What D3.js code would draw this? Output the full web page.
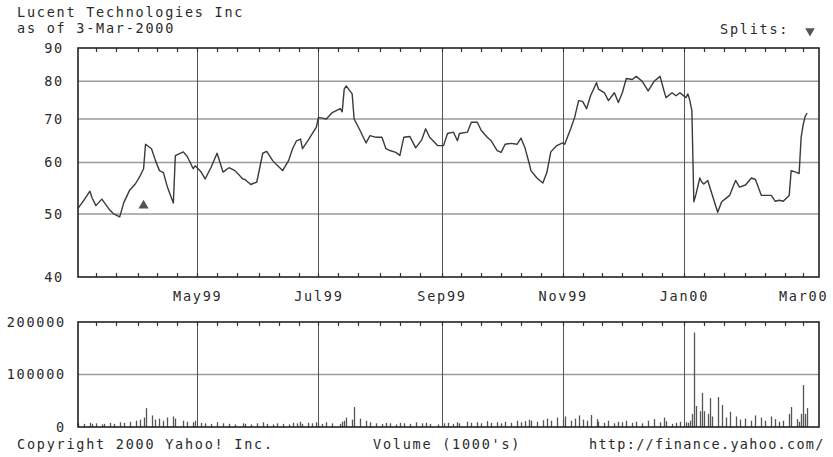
<!DOCTYPE html>
<html><head><meta charset="utf-8">
<script src="https://cdn.jsdelivr.net/npm/d3@7"></script>
<style>
html,body{margin:0;padding:0;background:#fff;}
svg text{font-family:"DejaVu Sans Mono","Liberation Mono",monospace;font-size:13.5px;letter-spacing:1.75px;fill:#2a2a2a;}
</style></head>
<body>
<svg id="chart" width="833" height="457"></svg>
<script>
// ---- data ----
const title = "Lucent Technologies Inc";
const subtitle = "as of 3-Mar-2000";
const dates = [
"1999-03-02","1999-03-05","1999-03-08","1999-03-09","1999-03-11","1999-03-14","1999-03-15","1999-03-18","1999-03-20","1999-03-23",
"1999-03-25","1999-03-28","1999-03-31","1999-04-02","1999-04-04","1999-04-05","1999-04-08","1999-04-10","1999-04-12","1999-04-14",
"1999-04-16","1999-04-19","1999-04-20","1999-04-24","1999-04-26","1999-04-29","1999-04-30","1999-05-03","1999-05-05","1999-05-08",
"1999-05-11","1999-05-14","1999-05-17","1999-05-20","1999-05-24","1999-05-25","1999-05-28","1999-05-31","1999-06-03","1999-06-05",
"1999-06-08","1999-06-10","1999-06-13","1999-06-16","1999-06-18","1999-06-20","1999-06-22","1999-06-23","1999-06-26","1999-06-28",
"1999-06-30","1999-07-01","1999-07-03","1999-07-05","1999-07-08","1999-07-12","1999-07-13","1999-07-14","1999-07-15","1999-07-18",
"1999-07-19","1999-07-22","1999-07-25","1999-07-27","1999-07-30","1999-08-02","1999-08-04","1999-08-06","1999-08-09","1999-08-11",
"1999-08-13","1999-08-16","1999-08-19","1999-08-22","1999-08-24","1999-08-26","1999-08-30","1999-09-02","1999-09-04","1999-09-07",
"1999-09-09","1999-09-10","1999-09-14","1999-09-16","1999-09-19","1999-09-21","1999-09-24","1999-09-26","1999-09-29","1999-10-01",
"1999-10-03","1999-10-06","1999-10-09","1999-10-11","1999-10-13","1999-10-15","1999-10-16","1999-10-19","1999-10-22","1999-10-24",
"1999-10-26","1999-10-29","1999-11-01","1999-11-02","1999-11-05","1999-11-07","1999-11-09","1999-11-11","1999-11-13","1999-11-15",
"1999-11-18","1999-11-19","1999-11-22","1999-11-24","1999-11-27","1999-11-29","1999-12-01","1999-12-03","1999-12-06","1999-12-08",
"1999-12-11","1999-12-14","1999-12-17","1999-12-20","1999-12-22","1999-12-23","1999-12-26","1999-12-28","1999-12-30","2000-01-02",
"2000-01-03","2000-01-04","2000-01-05","2000-01-06","2000-01-07","2000-01-09","2000-01-10","2000-01-11","2000-01-13","2000-01-14",
"2000-01-15","2000-01-18","2000-01-20","2000-01-22","2000-01-24","2000-01-27","2000-01-29","2000-02-01","2000-02-04","2000-02-06",
"2000-02-09","2000-02-11","2000-02-14","2000-02-16","2000-02-18","2000-02-20","2000-02-23","2000-02-24","2000-02-27","2000-02-28",
"2000-02-29","2000-03-01","2000-03-02","2000-03-03"];
const closes = [
51.0,52.5,54.2,53.0,51.5,52.7,52.2,50.7,50.0,49.5,
52.0,54.4,55.7,57.0,58.7,64.0,63.0,60.4,58.3,57.9,
55.0,52.0,61.5,62.3,61.3,58.7,59.3,58.0,56.6,59.0,
62.0,58.0,58.9,58.3,56.6,56.5,55.5,56.0,62.0,62.4,
60.4,59.5,58.3,60.4,63.0,64.8,65.2,63.0,65.0,66.5,
68.0,70.4,70.2,70.0,71.6,72.6,71.8,77.8,78.7,76.5,
70.0,67.2,64.3,66.0,65.6,65.6,63.0,62.6,62.2,61.5,
65.6,65.8,63.2,65.0,67.6,65.6,63.7,63.7,66.5,66.8,
64.8,66.5,66.8,69.2,69.2,67.2,65.6,64.8,62.6,62.2,
64.0,64.2,64.0,65.4,63.2,60.0,58.3,56.8,55.8,57.9,
62.3,63.7,64.3,64.0,67.6,70.4,74.7,74.5,72.6,76.0,
79.6,77.8,76.8,74.7,76.8,74.2,76.8,80.8,80.5,81.4,
80.0,77.3,80.0,81.4,77.3,75.5,76.8,76.0,76.8,75.5,
76.5,74.7,72.1,52.2,53.5,56.8,56.0,55.6,56.3,55.0,
53.8,50.3,52.2,52.8,53.4,56.3,55.0,55.4,56.8,56.5,
53.4,53.4,53.4,52.3,52.5,52.3,53.4,58.3,57.9,57.7,
65.6,68.5,70.6,71.5];
// volume, thousands of shares
const volumes = [
7,6,8,6,7,5,6,8,6,9,
8,10,12,14,18,36,22,14,16,12,
18,20,16,12,10,9,12,8,7,6,
9,7,6,5,7,6,5,7,9,6,
5,7,6,5,8,7,10,6,8,7,
9,8,6,9,7,6,10,12,18,14,
38,16,12,9,7,6,8,7,5,8,
7,6,9,7,8,6,5,7,8,6,
9,7,10,8,9,7,11,8,9,7,
10,8,12,9,11,14,12,10,13,16,
12,18,14,20,12,16,22,14,12,23,
15,10,8,12,7,10,9,12,8,10,
7,12,15,9,18,11,6,8,10,9,
8,12,25,180,40,30,65,30,25,55,
20,57,42,18,29,20,14,16,12,22,
18,12,20,15,10,12,25,38,15,10,
25,80,25,36];
const priceTicks = [40,50,60,70,80,90];
const volTicks = [0,100000,200000];
const monthLabels = ["May99","Jul99","Sep99","Nov99","Jan00","Mar00"];
const monthLabelDates = ["1999-05-01","1999-07-01","1999-09-01","1999-11-01","2000-01-01","2000-03-01"];
const gridMonths = ["1999-05-01","1999-07-01","1999-09-01","1999-11-01","2000-01-01"];
const domainDates = ["1999-03-02","2000-03-09"];
const splitDate = "1999-04-04";
const splitLevel = 51.5;
const footerLeft = "Copyright 2000 Yahoo! Inc.";
const footerMid = "Volume (1000's)";
const footerRight = "http://finance.yahoo.com/";

// ---- drawing ----
const parse = d3.utcParse("%Y-%m-%d");
const data = dates.map((d,i)=>({date:parse(d), close:closes[i], vol:volumes[i]*1000}));
const svg = d3.select("#chart");

const L = 78, R = 819;
const pTop = 48, pBot = 277;
const vTop = 322, vBot = 427;

const x = d3.scaleUtc().domain(domainDates.map(parse)).range([L, R]);
const y = d3.scaleLog().domain([40, 90]).range([pBot, pTop]);
const yv = d3.scaleLinear().domain([0, 200000]).range([vBot, vTop]);

// minor tick dates: 1st, 11th, 21st of each month
const minorDates = [];
for (let m = d3.utcMonth.floor(x.domain()[0]); m <= x.domain()[1]; m = d3.utcMonth.offset(m,1)) {
  [1,11,21].forEach(day => {
    const dt = new Date(Date.UTC(m.getUTCFullYear(), m.getUTCMonth(), day));
    if (dt >= x.domain()[0] && dt <= x.domain()[1]) minorDates.push(dt);
  });
}

function panel(top, bot, hGrid) {
  const g = svg.append("g");
  g.selectAll(".hg").data(hGrid).join("line")
    .attr("x1", L).attr("x2", R)
    .attr("y1", d=>d).attr("y2", d=>d)
    .attr("stroke", "#9a9a9a").attr("stroke-width", 1.6);
  g.selectAll(".vg").data(gridMonths.map(parse)).join("line")
    .attr("x1", d=>Math.round(x(d))+0.5).attr("x2", d=>Math.round(x(d))+0.5)
    .attr("y1", top).attr("y2", bot)
    .attr("stroke", "#555").attr("stroke-width", 1);
  g.selectAll(".tt").data(minorDates).join("line")
    .attr("x1", d=>Math.round(x(d))+0.5).attr("x2", d=>Math.round(x(d))+0.5)
    .attr("y1", top).attr("y2", top+4)
    .attr("stroke", "#333").attr("stroke-width", 1.2);
  return g;
}

const pg = panel(pTop, pBot, [50,60,70,80].map(v=>y(v)));
pg.selectAll(".bt").data(minorDates).join("line")
  .attr("x1", d=>Math.round(x(d))+0.5).attr("x2", d=>Math.round(x(d))+0.5)
  .attr("y1", pBot-4).attr("y2", pBot)
  .attr("stroke", "#333").attr("stroke-width", 1.2);

const vg = panel(vTop, vBot, [yv(100000)]);

// volume bars
svg.append("g").selectAll("line").data(data).join("line")
  .attr("x1", d=>Math.round(x(d.date))+0.5).attr("x2", d=>Math.round(x(d.date))+0.5)
  .attr("y1", vBot).attr("y2", d=>yv(d.vol))
  .attr("stroke", "#555").attr("stroke-width", 1.3);

// price line
svg.append("path").datum(data)
  .attr("fill","none").attr("stroke","#3a3a3a").attr("stroke-width",1.4)
  .attr("stroke-linejoin","round")
  .attr("d", d3.line().x(d=>x(d.date)).y(d=>y(d.close)));

// split marker (up triangle)
svg.append("path")
  .attr("d", d3.symbol(d3.symbolTriangle, 45)())
  .attr("transform", `translate(${x(parse(splitDate))},${y(splitLevel)})`)
  .attr("fill", "#555");

// frames
[[pTop,pBot],[vTop,vBot]].forEach(([t,b])=>{
  svg.append("rect").attr("x",L).attr("y",t).attr("width",R-L).attr("height",b-t)
    .attr("fill","none").attr("stroke","#222").attr("stroke-width",1.6);
});

// axes (labels)
const ya = svg.append("g").attr("transform",`translate(${L-14},0)`)
  .call(d3.axisLeft(y).tickValues(priceTicks).tickFormat(d3.format("d")).tickSize(0).tickPadding(0));
const va = svg.append("g").attr("transform",`translate(${L-12},0)`)
  .call(d3.axisLeft(yv).tickValues(volTicks).tickFormat(d3.format("d")).tickSize(0).tickPadding(0));
const xa = svg.append("g").attr("transform",`translate(0,${pBot+14})`)
  .call(d3.axisBottom(x).tickValues(monthLabelDates.map(parse)).tickFormat((d,i)=>monthLabels[i]).tickSize(0).tickPadding(0));
[ya,va,xa].forEach(a=>{
  a.select(".domain").remove();
  a.selectAll("text").attr("fill","#2a2a2a").style("font-family",'"DejaVu Sans Mono",monospace').style("font-size","13.5px");
});

// texts
svg.append("text").attr("x",17).attr("y",17).text(title);
svg.append("text").attr("x",17).attr("y",33).text(subtitle);
svg.append("text").attr("x",720).attr("y",34).text("Splits:");
svg.append("path")
  .attr("d", d3.symbol(d3.symbolTriangle, 40)())
  .attr("transform","translate(810,31) rotate(180)")
  .attr("fill","#555");
svg.append("text").attr("x",17).attr("y",449).text(footerLeft);
svg.append("text").attr("x",373).attr("y",449).text(footerMid);
svg.append("text").attr("x",589).attr("y",449).style("letter-spacing","1.3px").text(footerRight);
</script>
</body></html>
